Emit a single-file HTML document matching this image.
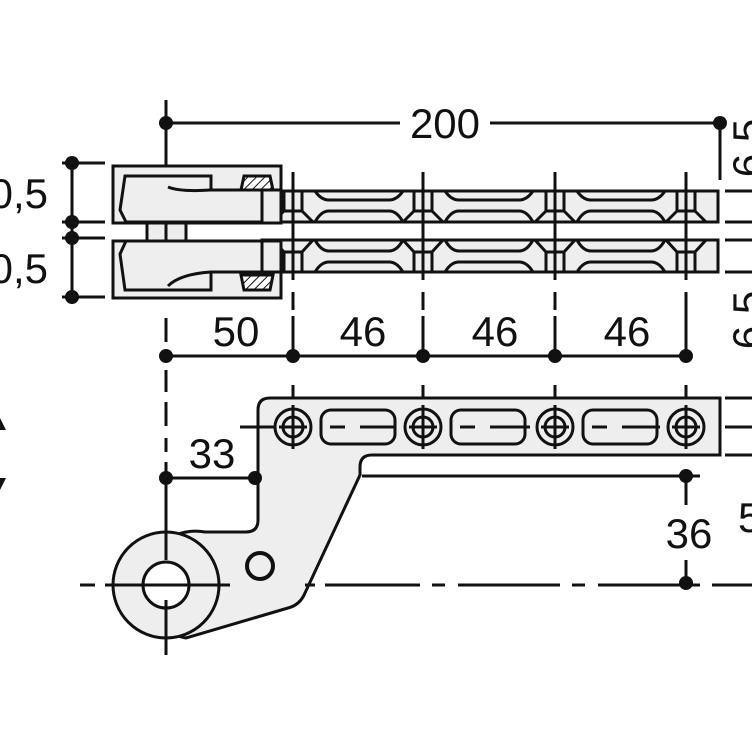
<!DOCTYPE html>
<html><head><meta charset="utf-8"><style>
html,body{margin:0;padding:0;background:#fff}
svg{display:block}
text{font-family:"Liberation Sans","DejaVu Sans",sans-serif;fill:#111}
</style></head><body>
<svg width="752" height="752" viewBox="0 0 752 752" xmlns="http://www.w3.org/2000/svg">
<defs>
<pattern id="h" width="6" height="6" patternUnits="userSpaceOnUse" patternTransform="rotate(45)">
<rect width="6" height="6" fill="#fff"/><line x1="0" y1="0" x2="0" y2="6" stroke="#111" stroke-width="2"/></pattern>
<!-- slot segment between holes in top bar (local x 0..131) -->
<g id="segT" fill="none" stroke="#111" stroke-width="3">
<path d="M22 191 Q28 200 36 200 L96 200 Q104 200 110 191"/>
<path d="M22 222 Q28 211 36 211 L96 211 Q104 211 110 222"/>
</g>
<g id="segB" fill="none" stroke="#111" stroke-width="3">
<path d="M22 240 Q28 251 36 251 L96 251 Q104 251 110 240"/>
<path d="M22 272 Q28 262 36 262 L96 262 Q104 262 110 272"/>
</g>
<g id="hole" fill="none" stroke="#111" stroke-width="3">
<path d="M-9 191 V211 M9 191 V211 M-9 211 H9 M-9 211 L-20 222 M9 211 L20 222"/>
<path d="M-9 272 V252 M9 272 V252 M-9 252 H9 M-9 252 L-20 240 M9 252 L20 240"/>
</g>
<g id="ph" fill="none" stroke="#111" stroke-width="3">
<circle cx="0" cy="427" r="18"/><circle cx="0" cy="427" r="10"/>
<path d="M0 405 V449 M-14 427 H14"/>
</g>
<g id="slot" fill="none" stroke="#111" stroke-width="3">
<rect x="28" y="410" width="74" height="34" rx="10"/>
</g>
</defs>

<g stroke="#111" stroke-width="3" fill="none">
<!-- 200 dim -->
<line x1="166" y1="123" x2="400" y2="123"/><line x1="490" y1="123" x2="720" y2="123"/>
<line x1="720" y1="123" x2="720" y2="180"/>
<!-- centerline -->
<line x1="166" y1="100" x2="166" y2="176"/>
<path d="M166 186 V198 M166 206 V222" />
<line x1="166" y1="224" x2="166" y2="298"/>
<path d="M166 318 V342 M166 370 V392 M166 402 V426 M166 438 V452 M166 462 V655"/>
<!-- left dims -->
<line x1="72" y1="163" x2="72" y2="297"/>
<path d="M62 163 H105 M62 222 H105 M62 238 H105 M62 297 H105"/>
</g>
<g fill="#111">
<circle cx="166" cy="123" r="7"/><circle cx="720" cy="123" r="7"/>
<circle cx="72" cy="163" r="7"/><circle cx="72" cy="222" r="7"/><circle cx="72" cy="238" r="7"/><circle cx="72" cy="297" r="7"/>
</g>

<!-- bars -->
<g stroke="#111" stroke-width="3" fill="#eeeeee">
<rect x="262" y="191" width="456" height="31"/>
<rect x="262" y="240" width="456" height="32"/>
</g>
<use href="#segT" x="293"/><use href="#segT" x="423"/><use href="#segT" x="555"/>
<use href="#segB" x="293"/><use href="#segB" x="423"/><use href="#segB" x="555"/>
<use href="#hole" x="293"/><use href="#hole" x="423"/><use href="#hole" x="555"/><use href="#hole" x="686"/>
<g stroke="#111" stroke-width="3">
<path d="M293 172 V280 M293 292 V310 M423 172 V280 M423 292 V310 M555 172 V280 M555 292 V310 M686 172 V280 M686 292 V362"/>
<path d="M293 316 V362 M423 316 V362 M555 316 V362"/>
</g>

<!-- housings -->
<g stroke="#111" stroke-width="3" fill="#eeeeee">
<rect x="113" y="166" width="168" height="57"/>
<rect x="113" y="241" width="168" height="57"/>
<rect x="147" y="223" width="39" height="18"/>
<path d="M125 176 H211 V190 H262 V222 H126 L120 210 Z" fill="#eeeeee"/>
<path d="M125 290 H211 V272 H262 V241 H126 L120 254 Z" fill="#eeeeee"/>
<path d="M244 176 H270 L273 190 H241 Z" fill="url(#h)"/>
<path d="M241 275 H273 L270 290 H244 Z" fill="url(#h)"/>
<path d="M262 190 H281 M262 272 H281" fill="none"/>
<path d="M168 187 Q180 192 211 190" fill="none"/>
<path d="M168 286 Q180 274 211 272" fill="none"/>
<line x1="166" y1="223" x2="166" y2="241"/>
</g>

<!-- right extension lines -->
<g stroke="#111" stroke-width="3">
<path d="M725 191 H752 M725 222 H752 M725 240 H752 M725 272 H752 M725 398 H752 M725 427 H752 M725 455 H752"/>
<!-- dim row -->
<line x1="166" y1="356" x2="686" y2="356"/>
</g>
<g fill="#111">
<circle cx="166" cy="356" r="7"/><circle cx="293" cy="356" r="7"/><circle cx="423" cy="356" r="7"/><circle cx="555" cy="356" r="7"/><circle cx="686" cy="356" r="7"/>
</g>

<!-- arm and plate -->
<path d="M270 398 H720 V455 H372 Q360 455 360 467 V475 L305 593 Q300 605 288 608 L186 638 A53 53 0 0 1 205 532 H246 Q258 532 258 520 V410 Q258 398 270 398 Z" fill="#eeeeee" stroke="#111" stroke-width="3"/>
<circle cx="166" cy="585" r="53" fill="#eeeeee" stroke="#111" stroke-width="3"/>
<circle cx="166" cy="585" r="23" fill="#fff" stroke="#111" stroke-width="3"/>
<circle cx="260" cy="566" r="13" fill="none" stroke="#111" stroke-width="4"/>
<circle cx="260" cy="566" r="8" fill="#eeeeee" stroke="none"/>
<use href="#slot" x="293"/><use href="#slot" x="423"/><use href="#slot" x="555"/>
<use href="#ph" x="293"/><use href="#ph" x="423"/><use href="#ph" x="555"/><use href="#ph" x="686"/>
<g stroke="#111" stroke-width="3">
<path d="M240 427 H275 M330 427 H345 M360 427 H395 M460 427 H475 M490 427 H530 M592 427 H607 M622 427 H660"/>
<path d="M293 385 V398 M423 385 V398 M555 385 V398 M686 385 V398"/>
<!-- 33 -->
<line x1="166" y1="478" x2="255" y2="478"/>
<!-- 36 -->
<line x1="362" y1="476" x2="700" y2="476"/>
<path d="M686 476 V505 M686 560 V583"/>
<!-- dash line -->
<path d="M80 585 H95 M105 585 H230 M305 585 H315 M325 585 H420 M432 585 H445 M458 585 H560 M572 585 H585 M598 585 H700 M712 585 H752"/>
<path d="M166 520 V560 M166 600 V655"/>
</g>
<g fill="#111">
<circle cx="166" cy="478" r="7"/><circle cx="255" cy="478" r="7"/>
<circle cx="686" cy="476" r="7"/><circle cx="686" cy="583" r="7"/>
<path d="M0 418 L6 430 H0 Z"/><path d="M0 478 H6 L0 490 Z"/>
</g>

<!-- labels -->
<g font-size="42">
<text x="445" y="138" text-anchor="middle" style="background:#fff">200</text>
<text x="236" y="346" text-anchor="middle">50</text>
<text x="363" y="346" text-anchor="middle">46</text>
<text x="495" y="346" text-anchor="middle">46</text>
<text x="627" y="346" text-anchor="middle">46</text>
<text x="212" y="468" text-anchor="middle">33</text>
<text x="689" y="548" text-anchor="middle">36</text>
<text x="48" y="208" text-anchor="end">0,5</text>
<text x="48" y="283" text-anchor="end">0,5</text>
<text x="738" y="532">5</text>
<text transform="translate(762,148) rotate(-90)" text-anchor="middle">6,5</text>
<text transform="translate(762,320) rotate(-90)" text-anchor="middle">6,5</text>
</g>
</svg>
</body></html>
